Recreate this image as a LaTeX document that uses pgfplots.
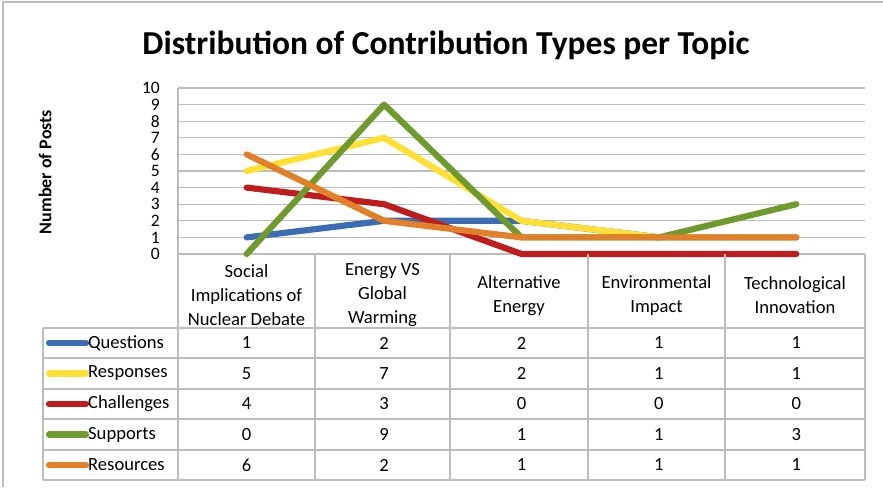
\documentclass[border=0pt]{standalone}
\usepackage{pgfplots}
\pgfplotsset{compat=1.18}
\usepackage{pgfplotstable}
\usepackage{fontspec}
\setmainfont{Carlito}
\definecolor{cQ}{HTML}{3A6DB3}
\definecolor{cR}{HTML}{FFE033}
\definecolor{cC}{HTML}{BF1D1D}
\definecolor{cS}{HTML}{6E9A2E}
\definecolor{cRes}{HTML}{E2802A}
\definecolor{gridc}{HTML}{BDBDBD}
\pgfplotstableread{
x Q R C S Res
0 1 5 4 0 6
1 2 7 3 9 2
2 2 2 0 1 1
3 1 1 0 1 1
4 1 1 0 3 1
}\datatab
\newcommand{\cellfont}{\fontsize{18.6}{24}\selectfont}
\begin{document}
\begin{tikzpicture}[x=1pt,y=1pt]
\fill[white] (0,0) rectangle (883,487);
\useasboundingbox (0,0) rectangle (883,487);
\draw[gridc,line width=1.2pt] (3,0) -- (3,485) -- (883,485);
\node[font=\bfseries\fontsize{33.5}{38}\selectfont] at (446,442) {Distribution of Contribution Types per Topic};
\node[font=\bfseries\fontsize{18}{20}\selectfont, rotate=90] at (45,315) {Number of Posts};
\begin{axis}[
  at={(178pt,233pt)}, anchor=south west,
  scale only axis, width=687pt, height=166pt,
  xmin=-0.5, xmax=4.5, ymin=0, ymax=10,
  clip=false,
  axis line style={draw=none},
  xtick=\empty, ytick={0,...,10},
  major tick length=0pt,
  ymajorgrids, grid style={gridc, line width=1.3pt},
  /pgf/number format/assume math mode=true,
  yticklabel style={font=\fontsize{17.5}{17}\selectfont, anchor=east, inner sep=0pt, xshift=-18pt},
  every node near coord/.append style={anchor=center, font=\cellfont, inner sep=0pt, black},
]
\addplot[cQ, line width=6.2pt, line cap=round, line join=round] table[x=x,y=Q] {\datatab};
\addplot[cR, line width=6.2pt, line cap=round, line join=round] table[x=x,y=R] {\datatab};
\addplot[cC, line width=6.2pt, line cap=round, line join=round] table[x=x,y=C] {\datatab};
\addplot[cS, line width=6.2pt, line cap=round, line join=round] table[x=x,y=S] {\datatab};
\addplot[cRes, line width=6.2pt, line cap=round, line join=round] table[x=x,y=Res] {\datatab};
% data table values
\addplot[draw=none, mark=none, nodes near coords, point meta=explicit] table[x=x, y expr=-5.361, meta=Q] {\datatab};
\addplot[draw=none, mark=none, nodes near coords, point meta=explicit] table[x=x, y expr=-7.199, meta=R] {\datatab};
\addplot[draw=none, mark=none, nodes near coords, point meta=explicit] table[x=x, y expr=-9.036, meta=C] {\datatab};
\addplot[draw=none, mark=none, nodes near coords, point meta=explicit] table[x=x, y expr=-10.873, meta=S] {\datatab};
\addplot[draw=none, mark=none, nodes near coords, point meta=explicit] table[x=x, y expr=-12.711, meta=Res] {\datatab};
\end{axis}
% table grid
\begin{scope}[gridc, line width=1.3pt]
\draw (178,399) -- (178,7);
\foreach \xx in {315,450,588,725,865} \draw (\xx,233) -- (\xx,7);
\draw (43,159) -- (43,7);
\foreach \yy in {159,129,98,68,37,7} \draw (43,\yy) -- (865,\yy);
\end{scope}
% header labels
\begin{scope}[every node/.style={align=center, font=\fontsize{18.6}{24}\selectfont, inner sep=0pt}]
\node at (246.5,191.5) {Social\\Implications of\\Nuclear Debate};
\node at (382.5,191.5) {Energy VS\\Global\\Warming};
\node at (519,191.5) {Alternative\\Energy};
\node at (656.5,191.5) {Environmental\\Impact};
\node at (795,191.5) {Technological\\Innovation};
\end{scope}
% legend in table
\begin{scope}[line width=6.2pt, line cap=round]
\draw[cQ] (49,144) -- (86,144);
\draw[cR] (49,113.5) -- (86,113.5);
\draw[cC] (49,83) -- (86,83);
\draw[cS] (49,52.5) -- (86,52.5);
\draw[cRes] (49,22) -- (86,22);
\end{scope}
\begin{scope}[every node/.style={anchor=west, font=\cellfont, inner sep=0pt}]
\node at (88,144) {Questions};
\node at (88,113.5) {Responses};
\node at (88,83) {Challenges};
\node at (88,52.5) {Supports};
\node at (88,22) {Resources};
\end{scope}
\end{tikzpicture}
\end{document}
